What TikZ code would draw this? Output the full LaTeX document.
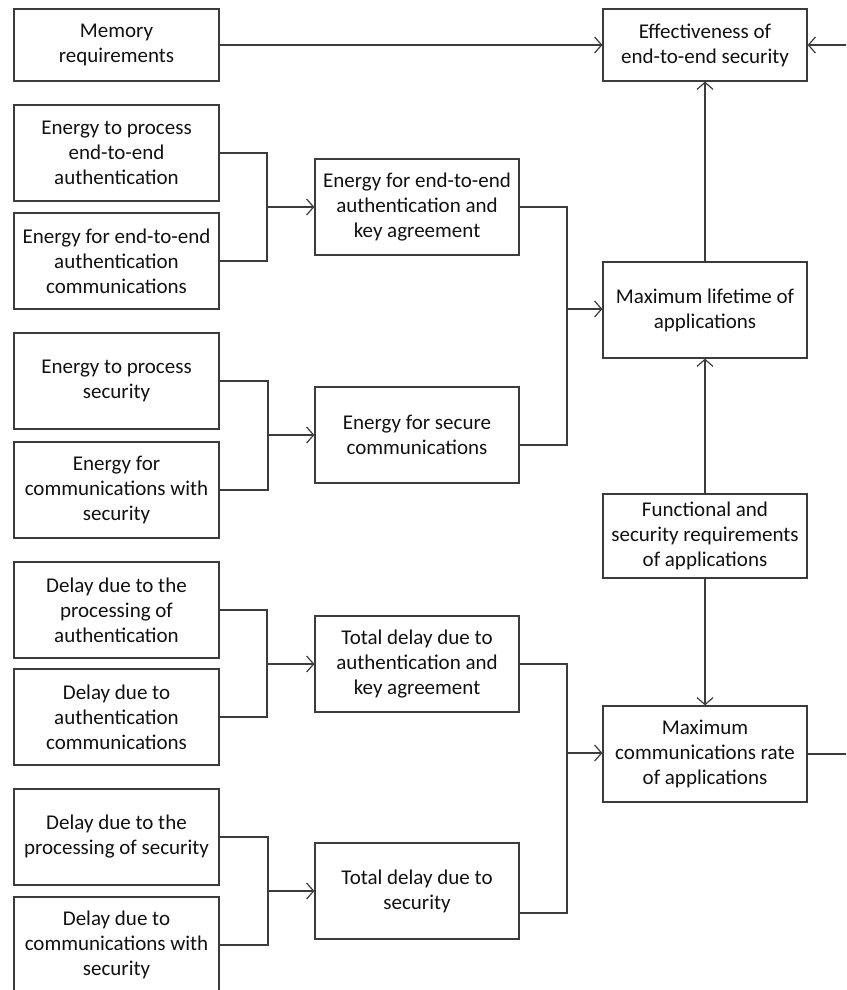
\documentclass[tikz,border=0pt]{standalone}
\usepackage{fontspec}
\setmainfont{Carlito}
\usetikzlibrary{arrows.meta}

\definecolor{edge}{HTML}{3C3C3C}
\definecolor{ink}{HTML}{111111}

\tikzset{
  box/.style={draw=edge, line width=1.2pt, align=center, inner sep=0pt,
              text=ink, font=\fontsize{21}{25}\selectfont,
              minimum width=205pt, minimum height=96pt},
  link/.style={draw=edge, line width=1.2pt},
  arrowlink/.style={link, -{Straight Barb[length=7pt, width=16pt, line width=1.2pt]}}
}

\begin{document}
\begin{tikzpicture}[x=1pt, y=-1pt]
  \useasboundingbox (0,0) rectangle (846,990);
  \clip (0,0) rectangle (846,990);

  % left column: inputs
  \node[box, minimum height=72pt] (mem) at (116.5,45) {Memory\\requirements};
  \node[box] (epa) at (116.5,153) {Energy to process\\end-to-end\\authentication};
  \node[box] (eac) at (116.5,261) {Energy for end-to-end\\authentication\\communications};
  \node[box] (eps) at (116.5,381) {Energy to process\\security};
  \node[box] (ecs) at (116.5,490) {Energy for\\communications with\\security};
  \node[box] (dpa) at (116.5,610) {Delay due to the\\processing of\\authentication};
  \node[box] (dac) at (116.5,717) {Delay due to\\authentication\\communications};
  \node[box] (dps) at (116.5,837) {Delay due to the\\processing of security};
  \node[box] (dcs) at (116.5,945) {Delay due to\\communications with\\security};

  % middle column: aggregated costs
  \node[box, minimum width=204pt] (eak) at (417,207) {Energy for end-to-end\\authentication and\\key agreement};
  \node[box, minimum width=204pt] (esc) at (417,435) {Energy for secure\\communications};
  \node[box, minimum width=204pt] (dak) at (417,664) {Total delay due to\\authentication and\\key agreement};
  \node[box, minimum width=204pt] (dts) at (417,891) {Total delay due to\\security};

  % right column: application-level quantities
  \node[box, minimum width=204pt, minimum height=72pt] (eff) at (705,45) {Effectiveness of\\end-to-end security};
  \node[box, minimum width=204pt] (life) at (705,310) {Maximum lifetime of\\applications};
  \node[box, minimum width=204pt, minimum height=84pt] (req) at (705,536) {Functional and\\security requirements\\of applications};
  \node[box, minimum width=204pt] (rate) at (705,754) {Maximum\\communications rate\\of applications};

  % junction points of the brackets
  \coordinate (j1) at (267,207);
  \coordinate (j2) at (268,435);
  \coordinate (j3) at (267,664);
  \coordinate (j4) at (268,891);
  \coordinate (k1) at (567,309);
  \coordinate (k2) at (567,753);
  \coordinate (far) at (852,0);

  \draw[arrowlink] (mem.east) -- (eff.west);

  \draw[link] (epa.east) -| (j1) |- (eac.east);
  \draw[arrowlink] (j1) -- (eak.west);
  \draw[link] (eps.east) -| (j2) |- (ecs.east);
  \draw[arrowlink] (j2) -- (esc.west);
  \draw[link] (dpa.east) -| (j3) |- (dac.east);
  \draw[arrowlink] (j3) -- (dak.west);
  \draw[link] (dps.east) -| (j4) |- (dcs.east);
  \draw[arrowlink] (j4) -- (dts.west);

  \draw[link] (eak.east) -| (k1) |- ([yshift=-10pt]esc.east);
  \draw[arrowlink] (k1) -- (k1 -| life.west);
  \draw[link] (dak.east) -| (k2) |- ([yshift=-22pt]dts.east);
  \draw[arrowlink] (k2) -- (k2 -| rate.west);

  \draw[arrowlink] (life.north) -- (eff.south);
  \draw[arrowlink] (req.north) -- (life.south);
  \draw[arrowlink] (req.south) -- (rate.north);

  % feedback from the communications rate back to the effectiveness
  \draw[arrowlink] (rate.east) -- (rate.east -| far) -- (eff.east -| far) -- (eff.east);
\end{tikzpicture}
\end{document}
